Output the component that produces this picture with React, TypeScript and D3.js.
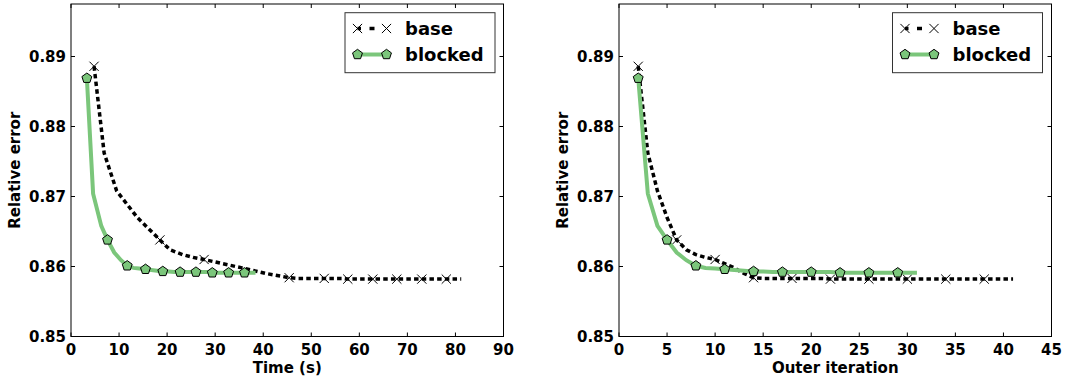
import React from "react";
import * as d3 from "d3";

// ---------- data ----------
const baseIter = [2,3,4,5,6,7,8,9,10,11,12,13,14,15,16,17,18,19,20,21,22,23,24,25,26,27,28,29,30,31,32,33,34,35,36,37,38,39,40,41];
const baseTime = [4.8,6.9,9.5,13.8,18.5,20.6,23.2,25.4,27.7,31.6,35.6,40.6,45.4,47.2,49.0,50.9,52.7,53.9,55.2,56.4,57.6,58.9,60.2,61.5,62.8,64.0,65.3,66.5,67.8,69.1,70.4,71.7,73.0,74.3,75.6,76.8,78.1,79.1,80.2,81.2];
const baseError = [0.8886,0.8762,0.8708,0.8670,0.8638,0.8624,0.8617,0.8613,0.8610,0.8604,0.8598,0.8590,0.8584,0.8583,0.8583,0.8583,0.8583,0.8583,0.8583,0.8583,0.8582,0.8582,0.8582,0.8582,0.8582,0.8582,0.8582,0.8582,0.8582,0.8582,0.8582,0.8582,0.8582,0.8582,0.8582,0.8582,0.8582,0.8582,0.8582,0.8582];

const blockedIter = [2,3,4,5,6,7,8,9,10,11,12,13,14,15,16,17,18,19,20,21,22,23,24,25,26,27,28,29,30,31];
const blockedTime = [3.3,4.6,6.3,7.6,9.0,10.4,11.7,13.0,14.2,15.5,16.7,17.9,19.1,20.3,21.5,22.7,23.8,24.9,26.0,27.2,28.3,29.4,30.5,31.7,32.8,33.9,35.0,36.1,37.2,38.4];
const blockedError = [0.8869,0.8704,0.8658,0.8638,0.8620,0.8609,0.8601,0.8598,0.8597,0.8596,0.8595,0.8594,0.8593,0.8593,0.8592,0.8592,0.8592,0.8592,0.8592,0.8592,0.8592,0.8591,0.8591,0.8591,0.8591,0.8591,0.8591,0.8591,0.8591,0.8591];

const timeTicks = [0,10,20,30,40,50,60,70,80,90];
const iterTicks = [0,5,10,15,20,25,30,35,40,45];
const errorTicks = [0.85,0.86,0.87,0.88,0.89];
const seriesNames = ["base", "blocked"];

// ---------- style ----------
const FONT = "'DejaVu Sans', sans-serif";
const GREEN = "#7bc67b";
const BASE_MARK_EVERY = 4;
const BLOCKED_MARK_EVERY = 3;

function pentagon(cx: number, cy: number, r: number) {
  const pts: string[] = [];
  for (let k = 0; k < 5; k++) {
    const a = (-90 + k * 72) * Math.PI / 180;
    pts.push(`${cx + r * Math.cos(a)},${cy + r * Math.sin(a)}`);
  }
  return "M" + pts.join("L") + "Z";
}

function XMark({ x, y, s = 4.6 }: { x: number; y: number; s?: number }) {
  return (
    <path d={`M${x - s},${y - s}L${x + s},${y + s}M${x - s},${y + s}L${x + s},${y - s}`} stroke="#000" strokeWidth={1} fill="none" />
  );
}

function Pent({ x, y }: { x: number; y: number }) {
  return <path d={pentagon(x, y, 5.2)} fill={GREEN} stroke="#000" strokeWidth={1} />;
}

type PanelProps = {
  left: number;
  xDomain: [number, number];
  xTicks: number[];
  xLabel: string;
  baseX: number[];
  blockedX: number[];
  legendLeft: number;
};

function Panel({ left, xDomain, xTicks, xLabel, baseX, blockedX, legendLeft }: PanelProps) {
  const W = 432.5;
  const top = 4;
  const bottom = 336.5;
  const x = d3.scaleLinear().domain(xDomain).range([left, left + W]);
  const y = d3.scaleLinear().domain([0.85, 0.8975]).range([bottom, top]);
  const line = d3.line<[number, number]>().x(d => x(d[0])).y(d => y(d[1]));
  const basePts: [number, number][] = baseX.map((v, i) => [v, baseError[i]]);
  const blockedPts: [number, number][] = blockedX.map((v, i) => [v, blockedError[i]]);
  const tl = 4;
  const right = left + W;
  const l1 = legendLeft + 12.5;
  const l2 = legendLeft + 41.5;
  const mid = (l1 + l2) / 2;
  return (
    <g>
      {/* data */}
      <path d={line(basePts) || ""} fill="none" stroke="#000" strokeWidth={3.5} strokeDasharray="4.5,3.2" />
      {basePts.filter((_, i) => i % BASE_MARK_EVERY === 0).map((p, i) => (
        <XMark key={"bx" + i} x={x(p[0])} y={y(p[1])} />
      ))}
      <path d={line(blockedPts) || ""} fill="none" stroke={GREEN} strokeWidth={4} />
      {blockedPts.filter((_, i) => i % BLOCKED_MARK_EVERY === 0).map((p, i) => (
        <Pent key={"bp" + i} x={x(p[0])} y={y(p[1])} />
      ))}
      {/* frame */}
      <rect x={left} y={top} width={W} height={bottom - top} fill="none" stroke="#000" strokeWidth={1} />
      {xTicks.map(t => (
        <g key={"xt" + t}>
          <line x1={x(t)} x2={x(t)} y1={bottom} y2={bottom - tl} stroke="#000" />
          <line x1={x(t)} x2={x(t)} y1={top} y2={top + tl} stroke="#000" />
          <text x={x(t)} y={bottom + 18.5} textAnchor="middle" fontFamily={FONT} fontWeight="bold" fontSize={15}>{t}</text>
        </g>
      ))}
      {errorTicks.map(t => (
        <g key={"yt" + t}>
          <line x1={left} x2={left + tl} y1={y(t)} y2={y(t)} stroke="#000" />
          <line x1={right} x2={right - tl} y1={y(t)} y2={y(t)} stroke="#000" />
          <text x={left - 5} y={y(t) + 5.5} textAnchor="end" fontFamily={FONT} fontWeight="bold" fontSize={15}>{t.toFixed(2)}</text>
        </g>
      ))}
      <text x={left + W / 2} y={373} textAnchor="middle" fontFamily={FONT} fontWeight="bold" fontSize={15}>{xLabel}</text>
      <text transform={`translate(${left - 51},${(top + bottom) / 2}) rotate(-90)`} textAnchor="middle" fontFamily={FONT} fontWeight="bold" fontSize={15}>Relative error</text>
      {/* legend */}
      <g>
        <rect x={legendLeft} y={12.7} width={150} height={60} fill="#fff" stroke="#333" strokeWidth={1} />
        <line x1={mid - 2.5} x2={mid + 2.5} y1={28.5} y2={28.5} stroke="#000" strokeWidth={3.5} />
        <line x1={l1} x2={l1 + 3.5} y1={28.5} y2={28.5} stroke="#000" strokeWidth={3.5} />
        <XMark x={l1} y={28.5} />
        <XMark x={l2} y={28.5} />
        <text x={legendLeft + 60} y={28.5 + 6.5} fontFamily={FONT} fontWeight="bold" fontSize={18}>{seriesNames[0]}</text>
        <line x1={l1} x2={l2} y1={54.5} y2={54.5} stroke={GREEN} strokeWidth={4} />
        <Pent x={l1} y={54.5} />
        <Pent x={l2} y={54.5} />
        <text x={legendLeft + 60} y={54.5 + 6.5} fontFamily={FONT} fontWeight="bold" fontSize={18}>{seriesNames[1]}</text>
      </g>
    </g>
  );
}

export default function App() {
  return (
    <svg width={1066} height={382} style={{ position: "absolute", left: 0, top: 0, background: "#fff" }}>
      <rect width={1066} height={382} fill="#fff" />
      <Panel left={71} xDomain={[0, 90]} xTicks={timeTicks} xLabel="Time (s)" baseX={baseTime} blockedX={blockedTime} legendLeft={345} />
      <Panel left={619} xDomain={[0, 45]} xTicks={iterTicks} xLabel="Outer iteration" baseX={baseIter} blockedX={blockedIter} legendLeft={892.5} />
    </svg>
  );
}
